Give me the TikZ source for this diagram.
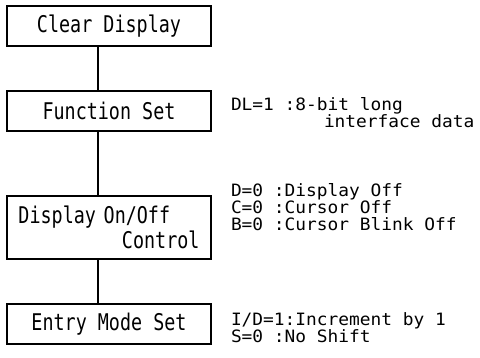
\documentclass[tikz,border=0pt]{standalone}
\usepackage{fontspec}
\usepackage{tikz}
\usetikzlibrary{positioning}
\newfontfamily\boxfont[FakeStretch=0.8]{DejaVu Sans Mono}
\newfontfamily\notefont[FakeStretch=1.05]{DejaVu Sans Mono}
\tikzstyle{cmdbox} = [draw, rectangle, line width=2.4pt, outer sep=0pt, minimum width=204pt, minimum height=40pt, font=\boxfont\fontsize{23}{25}\selectfont]
\tikzstyle{note} = [inner sep=0pt, outer sep=0pt, align=left, anchor=west, font=\notefont\fontsize{17}{17}\selectfont]
\tikzstyle{link} = [line width=2pt]

\begin{document}
\begin{tikzpicture}
    \useasboundingbox[fill=white] (0,0) rectangle (480pt,-358pt);
    \node (clear) [cmdbox] at (109pt,-26pt) {Clear Display};
    \node (func) [cmdbox, below=45pt of clear] {Function Set};
    \node (disp) [cmdbox, minimum height=63pt, text width=181pt, align=left, below=65pt of func] {Display On/Off\\\makebox[181pt][r]{Control}};
    \node (entry) [cmdbox, below=45pt of disp] {Entry Mode Set};

    \node (funcnote) [note, right=20pt of func, yshift=-2pt] {DL=1 :8-bit long\\\hspace*{93pt}interface data};
    \node (dispnote) [note, right=20pt of disp, yshift=20pt] {D=0 :Display Off\\C=0 :Cursor Off\\B=0 :Cursor Blink Off};
    \node (entrynote) [note, right=20pt of entry, yshift=-4pt] {I/D=1:Increment by 1\\S=0 :No Shift};

    \draw [link] ([xshift=-11pt]clear.south) -- ([xshift=-11pt]func.north);
    \draw [link] ([xshift=-11pt]func.south) -- ([xshift=-11pt]disp.north);
    \draw [link] ([xshift=-11pt]disp.south) -- ([xshift=-11pt]entry.north);
\end{tikzpicture}
\end{document}
